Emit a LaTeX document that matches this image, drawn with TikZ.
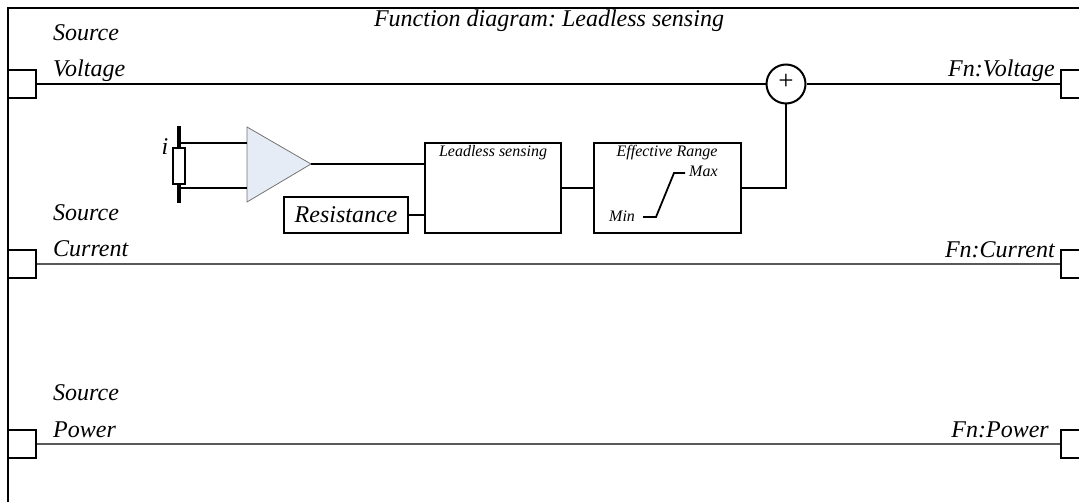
\documentclass[tikz,border=0pt]{standalone}
\usepackage{fontspec}
\setmainfont{Liberation Serif}
\frenchspacing
\begin{document}
\begin{tikzpicture}[x=1pt,y=-1pt,
  lbl/.style={font=\fontsize{24}{28}\selectfont\itshape, inner sep=0pt},
  small/.style={font=\fontsize{16}{19}\selectfont\itshape, inner sep=0pt},
  port/.style={draw, line width=2.6pt, fill=white, minimum width=28pt, minimum height=28pt, inner sep=0pt},
  blk/.style={draw, line width=2.6pt, inner sep=0pt},
  thickw/.style={line width=2.6pt},
  thinw/.style={line width=1.1pt, draw=black!65},
]
\useasboundingbox (0,0) rectangle (1079,502);
\begin{scope}
\clip (0,0) rectangle (1079,502);
% frame
\draw[line width=2.6pt] (8,520) -- (8,8) -- (1100,8);
% title
\node[lbl, anchor=base] (title) at (549,27) {Function diagram: Leadless sensing};
% ports
\node[port] (pvin) at (22,84) {};
\node[port] (pcin) at (22,264) {};
\node[port] (ppin) at (22,444) {};
\node[port] (pvout) at (1075,84) {};
\node[port] (pcout) at (1075,264) {};
\node[port] (ppout) at (1075,444) {};
% labels
\node[lbl, anchor=base west] (ls1) at (53,41) {Source};
\node[lbl, anchor=base west] (lv) at (53,77) {Voltage};
\node[lbl, anchor=base west] (ls2) at (53,221) {Source};
\node[lbl, anchor=base west] (lc) at (53,257) {Current};
\node[lbl, anchor=base west] (ls3) at (53,401) {Source};
\node[lbl, anchor=base west] (lp) at (53,437) {Power};
\node[lbl, anchor=base east] (rv) at (1055,77) {Fn:Voltage};
\node[lbl, anchor=base east] (rc) at (1055,258) {Fn:Current};
\node[lbl, anchor=base east] (rp) at (1049,438) {Fn:Power};
% sum
\node[draw, circle, line width=2pt, minimum size=39pt, inner sep=0pt, font=\fontsize{27}{28}\selectfont] (sum) at (786,84) {};
\node[font=\fontsize{27}{28}\selectfont, inner sep=0pt] (plus) at (786,82) {+};
% main lines
\draw[thickw] (pvin.east) -- (sum.west);
\draw[thickw] (sum.east) -- (pvout.west);
\draw[thinw] (pcin.east) -- (pcout.west);
\draw[thinw] (ppin.east) -- (ppout.west);
% sensor
\coordinate (bart) at (179,126);
\coordinate (barb) at (179,203);
\draw[line width=3.6pt] (bart) -- (barb);
\node[draw, line width=1.6pt, fill=white, minimum width=12pt, minimum height=36pt, inner sep=0pt] (res) at (179,166) {};
\node[lbl, anchor=base] (ii) at (165,155) {i};
% amplifier
\coordinate (at) at (247,127);
\coordinate (ab) at (247,202);
\coordinate (aout) at (311,164);
\draw[draw=black!55, line width=0.8pt, fill={rgb,255:red,230;green,236;blue,246}] (at) -- (aout) -- (ab) -- cycle;
\draw[thickw] (179,143) -- (247,143);
\draw[thickw] (179,188) -- (247,188);
% blocks
\node[blk, lbl, minimum width=124pt, minimum height=36pt] (resist) at (346,215) {Resistance};
\node[blk, minimum width=136pt, minimum height=90pt] (lead) at (493,188) {};
\node[small, anchor=base] (leadt) at (493,157) {Leadless sensing};
\node[blk, minimum width=147pt, minimum height=90pt] (eff) at (667.5,188) {};
\node[small, anchor=base] (efft) at (667,157) {Effective Range};
\node[small, anchor=base west] (mn) at (609,222) {Min};
\node[small, anchor=base west] (mx) at (689,177) {Max};
\draw[line width=1.8pt] (643,217) -- (656,217) -- (674,173) -- (685,173);
% connectors
\draw[thickw] (aout) -- (lead.west |- aout);
\draw[thickw] (resist.east) -- (lead.west |- resist.east);
\draw[thickw] (lead.east) -- (eff.west);
\draw[thickw] (eff.east) -| (sum.south);
\end{scope}
\end{tikzpicture}
\end{document}
